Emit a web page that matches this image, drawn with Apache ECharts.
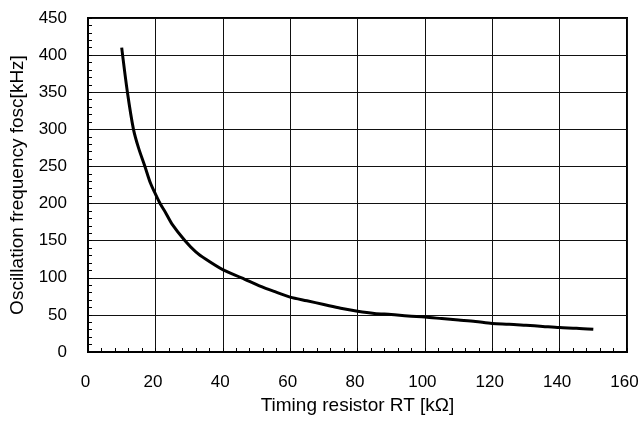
<!DOCTYPE html>
<html>
<head>
<meta charset="utf-8">
<script src="https://cdn.jsdelivr.net/npm/echarts@6/dist/echarts.min.js"></script>
<style>html,body{margin:0;padding:0;background:#fff}#c{width:643px;height:421px}</style>
</head>
<body>
<div id="c"></div>
<script>
const rtValues = [10, 11.7, 13.5, 15, 16.9, 18.5, 20, 21.4, 23, 25, 28.8, 32, 35, 40, 45.6, 51.5, 55, 60, 65, 70, 75, 80, 85, 90, 95, 100, 105, 110, 115, 120, 125, 130, 135, 140, 145, 150];
const freqValues = [410, 350, 300, 275, 250, 228, 213, 200, 188, 172, 150, 135, 125, 111, 100, 88, 82, 74, 69, 64, 59, 55, 52, 50.5, 48.5, 47, 45, 43, 41, 38.5, 37.5, 36, 34.5, 33, 32, 30.5];
const xName = 'Timing resistor RT [kΩ]';
const yName = 'Oscillation frequency fosc[kHz]';

const chart = echarts.init(document.getElementById('c'));
const font = 'Liberation Sans, Arial, sans-serif';
chart.setOption({
  animation: false,
  backgroundColor: '#fff',
  grid: {left: 88, right: 16, top: 18, bottom: 69, show: true, borderColor: '#000', borderWidth: 2, backgroundColor: 'transparent'},
  xAxis: {
    type: 'value', min: 0, max: 160, interval: 20,
    name: xName, nameLocation: 'middle', nameGap: 42,
    nameTextStyle: {fontFamily: font, fontSize: 19, color: '#000'},
    axisLine: {show: true, lineStyle: {color: '#000', width: 2}},
    axisTick: {show: true, inside: true, length: 4, lineStyle: {color: '#000'}},
    minorTick: {show: true, splitNumber: 5, length: 4, lineStyle: {color: '#000'}},
    axisLabel: {fontFamily: font, fontSize: 17, color: '#000', margin: 22, padding: [0, 5, 0, 0]},
    splitLine: {show: true, lineStyle: {color: '#111', width: 1}}
  },
  yAxis: {
    type: 'value', min: 0, max: 450, interval: 50,
    name: yName, nameLocation: 'middle', nameGap: 61,
    nameTextStyle: {fontFamily: font, fontSize: 19, color: '#000'},
    axisLine: {show: true, lineStyle: {color: '#000', width: 2}},
    axisTick: {show: true, inside: true, length: 4, lineStyle: {color: '#000'}},
    minorTick: {show: true, splitNumber: 5, length: 4, lineStyle: {color: '#000'}},
    axisLabel: {fontFamily: font, fontSize: 17, color: '#000', margin: 21},
    splitLine: {show: true, lineStyle: {color: '#111', width: 1}}
  },
  series: [{
    type: 'line', smooth: 0.3, showSymbol: false,
    data: rtValues.map((x, i) => [x, freqValues[i]]),
    lineStyle: {color: '#000', width: 3}
  }]
});
</script>
</body>
</html>
